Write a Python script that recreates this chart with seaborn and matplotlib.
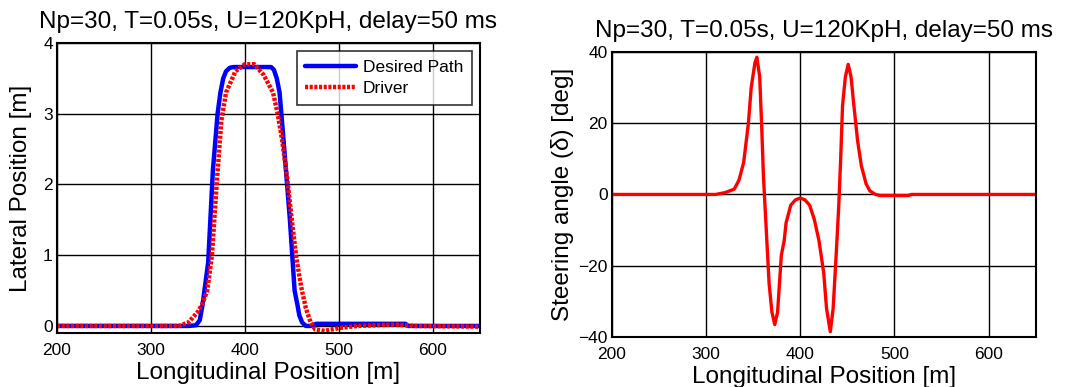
import numpy as np
import pandas as pd
import matplotlib
matplotlib.use('Agg')
import matplotlib.pyplot as plt
import seaborn as sns

# Lateral position data
path_x = [200, 340, 348, 352, 355, 358, 361, 366, 371, 374, 377, 380, 384, 388, 400, 420, 428, 431,
          434, 437, 442, 448, 453, 456, 458, 461, 465, 470, 476, 520, 571, 574, 650]
path_y = [0.0, 0.0, 0.01, 0.08, 0.3, 0.6, 0.9, 2.2, 3.0, 3.3, 3.5, 3.6, 3.65, 3.66, 3.66, 3.66, 3.66, 3.62,
          3.5, 3.3, 2.5, 1.5, 0.5, 0.3, 0.15, 0.05, 0.0, 0.0, 0.03, 0.03, 0.03, 0.0, 0.0]

driver_x = [200, 330, 340, 350, 355, 360, 365, 370, 375, 380, 390, 400, 410, 420, 430, 435, 440, 445,
            450, 455, 460, 465, 470, 475, 485, 500, 520, 540, 560, 580, 650]
driver_y = [0.0, 0.0, 0.05, 0.2, 0.32, 0.5, 1.0, 2.0, 2.9, 3.3, 3.6, 3.7, 3.7, 3.55, 3.3, 3.0, 2.6, 2.1,
            1.5, 0.95, 0.55, 0.25, 0.05, -0.05, -0.07, -0.03, 0.0, 0.01, 0.02, 0.0, -0.01]

# Steering angle data
steer_x = [200, 310, 320, 330, 335, 340, 345, 348, 352, 354, 357, 359, 361, 363, 365, 367, 370, 373, 376,
           378, 380, 383, 385, 390, 395, 400, 405, 410, 415, 420, 425, 428, 432, 435, 438, 441, 443, 445,
           448, 451, 454, 457, 461, 465, 470, 474, 480, 485, 500, 515, 518, 650]
steer_y = [0, 0, 0.5, 1.5, 4, 9, 20, 30, 37, 38.5, 33, 20, 5, -5, -15, -25, -33, -36.5, -33,
           -25, -17, -13, -8, -3, -1.5, -1, -1.5, -3, -7, -13, -22, -32, -38.5, -32, -18, -3, 10, 25,
           33, 36.5, 33, 25, 15, 8, 3, 1, 0, -0.3, -0.3, -0.3, 0, 0]

title = 'Np=30, T=0.05s, U=120KpH, delay=50 ms'

sns.set_style('white')
plt.rcParams['font.family'] = ['Liberation Sans', 'DejaVu Sans']
plt.rcParams['text.color'] = 'black'
plt.rcParams['axes.labelcolor'] = 'black'
plt.rcParams['xtick.color'] = 'black'
plt.rcParams['ytick.color'] = 'black'

fig = plt.figure(figsize=(10.81, 3.87), dpi=100)
ax1 = fig.add_axes([0.0527, 0.1395, 0.391, 0.7494])
ax2 = fig.add_axes([0.566, 0.129, 0.392, 0.737])

df_path = pd.DataFrame({'x': path_x, 'y': path_y})
df_drv = pd.DataFrame({'x': driver_x, 'y': driver_y})
df_st = pd.DataFrame({'x': steer_x, 'y': steer_y})

sns.lineplot(data=df_path, x='x', y='y', ax=ax1, color='#0000ff', linewidth=3.2, label='Desired Path',
             estimator=None, sort=False, solid_joinstyle='round')
sns.lineplot(data=df_drv, x='x', y='y', ax=ax1, color='#ff0000', linewidth=3.2, label='Driver',
             estimator=None, sort=False, linestyle=(0, (0.7, 0.35)))
sns.lineplot(data=df_st, x='x', y='y', ax=ax2, color='#ff0000', linewidth=2.4,
             estimator=None, sort=False, solid_joinstyle='round')

ax1.set_xlim(200, 650)
ax1.set_ylim(-0.1, 4)
ax1.set_yticks([0, 1, 2, 3, 4])
ax1.set_ylabel('Lateral Position [m]', fontsize=17.5, labelpad=8)
ax2.set_xlim(200, 650)
ax2.set_ylim(-40, 40)
ax2.set_yticks([-40, -20, 0, 20, 40])
ax2.set_ylabel('Steering angle (δ) [deg]', fontsize=17.5, labelpad=3)

for ax in (ax1, ax2):
    ax.set_xticks([200, 300, 400, 500, 600])
    ax.set_xlabel('Longitudinal Position [m]', fontsize=17.5, labelpad=3)
    ax.set_title(title, fontsize=17.5, pad=11)
    ax.grid(True, color='black', linewidth=1.0)
    ax.set_axisbelow(True)
    ax.tick_params(labelsize=12.5, length=0)
    ax.tick_params(axis='x', pad=7)
    ax.tick_params(axis='y', pad=3)
    for s in ax.spines.values():
        s.set_color('black')
        s.set_linewidth(1.5)

leg = ax1.legend(loc='upper right', fontsize=12.5, frameon=True, fancybox=False, handlelength=2.9,
                 borderpad=0.5, labelspacing=0.35, borderaxespad=0.45, handletextpad=0.4)
leg.get_frame().set_edgecolor('black')
leg.get_frame().set_linewidth(1.2)

fig.savefig('out.png', dpi=100)
